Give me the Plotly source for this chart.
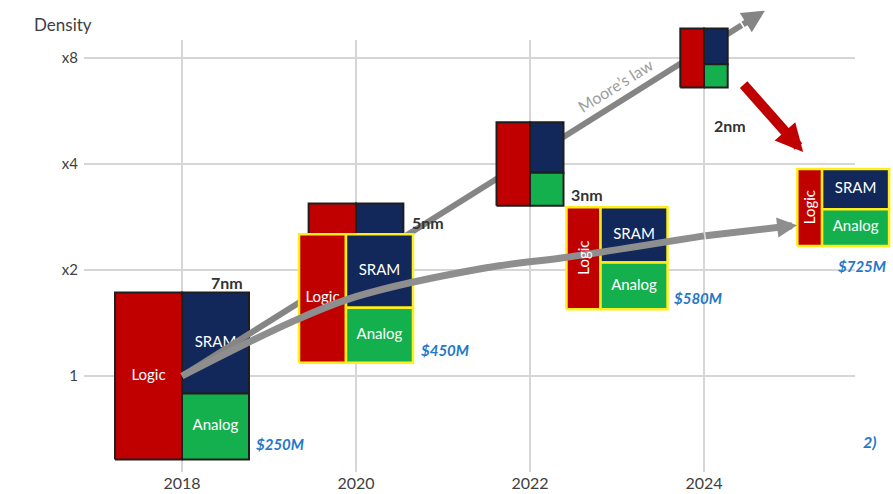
import numpy as np
import plotly.graph_objects as go

# ---------------- data ----------------
nodes = ["7nm", "5nm", "3nm", "2nm"]
node_years = [2018, 2020, 2022, 2024]
moore_density = [1.0, 2.1, 4.0, 8.0]        # ideal density of each node (box centres)
moore_area = [1.0, 0.5, 0.25, 0.125]        # chip area relative to 7nm under ideal scaling

# real chips: centre position and block areas (relative to half of the 7nm die)
actual_years = [2018.0, 2020.0, 2023.0, 2025.6]
actual_density = [1.0, 1.66, 2.16, 3.01]
logic_area = [1.00, 0.54, 0.31, 0.17]
sram_area = [0.605, 0.44, 0.33, 0.24]
analog_area = [0.395, 0.33, 0.28, 0.22]
design_cost = ["$250M", "$450M", "$580M", "$725M"]

# Moore's law line and the real density trend
moore_line_years = [2018.0, 2024.7]
moore_line_density = [1.0, 10.9]
trend_years = [2018.0, 2019.25, 2020.0, 2021.5, 2022.4, 2024.0, 2025.07]
trend_density = [1.0, 1.42, 1.68, 2.03, 2.17, 2.50, 2.68]
shrink_arrow_years = [2024.44, 2025.14]
shrink_arrow_density = [6.79, 4.33]

density_ticks = [1, 2, 4, 8]
density_labels = ["1", "x2", "x4", "x8"]
year_ticks = [2018, 2020, 2022, 2024]
block_names = ["Logic", "SRAM", "Analog"]
footnote = "2)"

# ---------------- layout / style ----------------
W, H = 893, 494
PX_YEAR = 87.0            # pixels per year
PX_DOUBLING = 106.0       # pixels per density doubling
ORIGIN_PX = (182.0, 376.0)  # pixel position of (first year, density 1)
BASE_W = 134.0 / PX_YEAR        # full 7nm die width in years
BASE_H = 167.0 / PX_DOUBLING    # full 7nm die height in doublings
COL_W = BASE_W / 2              # SRAM/analog column width

RED = "#c00000"
NAVY = "#12285a"
GREEN = "#14b04e"
DARK = "#1e1e1e"
YELLOW = "#ffee1a"
ARROW_GRAY = "#8e8e8e"
BLUE = "#1f78c8"
FONT = "Lato"


def px_to_year(px):
    return year_ticks[0] + (px - ORIGIN_PX[0]) / PX_YEAR


def py_to_level(py):
    return (ORIGIN_PX[1] - py) / PX_DOUBLING


def lv(d):
    return float(np.log2(d))


fig = go.Figure()

# empty trace so the grid axes are drawn
fig.add_trace(go.Scatter(x=[], y=[], xaxis="x", yaxis="y", showlegend=False))


def rect(x0, x1, y0, y1, fill, edge, width):
    fig.add_trace(go.Scatter(
        x=[x0, x1, x1, x0, x0], y=[y0, y0, y1, y1, y0],
        mode="lines", fill="toself", fillcolor=fill,
        line=dict(color=edge, width=width),
        xaxis="x2", yaxis="y2", hoverinfo="skip", showlegend=False))


def moore_box(i):
    s = np.sqrt(moore_area[i])
    w, h = BASE_W * s, BASE_H * s
    cx, cy = node_years[i], lv(moore_density[i])
    tot = logic_area[0] + sram_area[0] + analog_area[0]
    x0, x1 = cx - w / 2, cx + w / 2
    xs = x0 + w * logic_area[0] / tot
    y0, y1 = cy - h / 2, cy + h / 2
    ys = y1 - h * sram_area[0] / (sram_area[0] + analog_area[0])
    return dict(x0=x0, x1=x1, xs=xs, y0=y0, y1=y1, ys=ys)


def actual_box(i):
    h = (sram_area[i] + analog_area[i]) * BASE_H
    lw = logic_area[i] * COL_W / (sram_area[i] + analog_area[i])
    cx, cy = actual_years[i], lv(actual_density[i])
    x0 = cx - (lw + COL_W) / 2
    xs = x0 + lw
    x1 = xs + COL_W
    y0, y1 = cy - h / 2, cy + h / 2
    ys = y1 - sram_area[i] * BASE_H
    return dict(x0=x0, x1=x1, xs=xs, y0=y0, y1=y1, ys=ys)


def draw_box(b, edge, width):
    rect(b["x0"], b["xs"], b["y0"], b["y1"], RED, edge, width)
    rect(b["xs"], b["x1"], b["ys"], b["y1"], NAVY, edge, width)
    rect(b["xs"], b["x1"], b["y0"], b["ys"], GREEN, edge, width)


moore_boxes = [moore_box(i) for i in range(len(nodes))]
actual_boxes = [actual_box(i) for i in range(len(nodes))]

label_x, label_y, label_t = [], [], []
rotated = []


def collect_labels(b):
    lx = (b["x0"] + b["xs"]) / 2
    ly = (b["y0"] + b["y1"]) / 2
    if (b["xs"] - b["x0"]) * PX_YEAR < 40:
        rotated.append((lx, ly))
    else:
        label_x.append(lx); label_y.append(ly); label_t.append(block_names[0])
    rx = (b["xs"] + b["x1"]) / 2
    label_x.extend([rx, rx])
    label_y.extend([(b["ys"] + b["y1"]) / 2, (b["y0"] + b["ys"]) / 2])
    label_t.extend(block_names[1:])


# 7nm die (reference point for both series)
draw_box(actual_boxes[0], DARK, 2)
collect_labels(actual_boxes[0])
fig.add_trace(go.Scatter(x=label_x[:], y=label_y[:], text=label_t[:], mode="text",
                         textfont=dict(family=FONT, size=15, color="white"),
                         xaxis="x2", yaxis="y2", hoverinfo="skip", showlegend=False))
label_x.clear(); label_y.clear(); label_t.clear()

# Moore's law line (shaft; head added as annotation)
mx0, my0 = moore_line_years[0], lv(moore_line_density[0])
mx1, my1 = moore_line_years[1], lv(moore_line_density[1])
f_end = 0.96
mxe, mye = mx0 + f_end * (mx1 - mx0), my0 + f_end * (my1 - my0)
fig.add_trace(go.Scatter(x=[mx0, mxe], y=[my0, mye], mode="lines",
                         line=dict(color="#858585", width=6),
                         xaxis="x2", yaxis="y2", hoverinfo="skip", showlegend=False))

# ideally scaled dies
for i in range(1, len(nodes)):
    draw_box(moore_boxes[i], DARK, 2)

# real dies
for i in range(1, len(nodes)):
    draw_box(actual_boxes[i], YELLOW, 2.5)
    collect_labels(actual_boxes[i])

fig.add_trace(go.Scatter(x=label_x, y=label_y, text=label_t, mode="text",
                         textfont=dict(family=FONT, size=15, color="white"),
                         xaxis="x2", yaxis="y2", hoverinfo="skip", showlegend=False))

# real density trend
ty = [lv(d) for d in trend_density]
fig.add_trace(go.Scatter(x=trend_years[:-1], y=ty[:-1], mode="lines",
                         line=dict(color=ARROW_GRAY, width=7, shape="spline", smoothing=1.0),
                         xaxis="x2", yaxis="y2", hoverinfo="skip", showlegend=False))

annotations = []
for lx, ly in rotated:
    annotations.append(dict(x=lx, y=ly, xref="x2", yref="y2", text=block_names[0],
                            textangle=-90, showarrow=False,
                            font=dict(family=FONT, size=15, color="white")))

# arrow heads
annotations.append(dict(x=mx1, y=my1, ax=mxe, ay=mye, xref="x2", yref="y2",
                        axref="x2", ayref="y2", text="", showarrow=True,
                        arrowhead=2, arrowsize=0.75, arrowwidth=6, arrowcolor="#858585"))
annotations.append(dict(x=trend_years[-1], y=ty[-1], ax=trend_years[-2], ay=ty[-2],
                        xref="x2", yref="y2", axref="x2", ayref="y2", text="",
                        showarrow=True, arrowhead=2, arrowsize=0.57, arrowwidth=7,
                        arrowcolor=ARROW_GRAY))
annotations.append(dict(x=shrink_arrow_years[1], y=lv(shrink_arrow_density[1]),
                        ax=shrink_arrow_years[0], ay=lv(shrink_arrow_density[0]),
                        xref="x2", yref="y2", axref="x2", ayref="y2", text="",
                        showarrow=True, arrowhead=2, arrowsize=0.55, arrowwidth=10,
                        arrowcolor=RED))

# Moore's law caption along the line
f_txt = 0.743
angle = np.degrees(np.arctan((my1 - my0) * PX_DOUBLING / ((mx1 - mx0) * PX_YEAR)))
annotations.append(dict(x=mx0 + f_txt * (mx1 - mx0), y=my0 + f_txt * (my1 - my0),
                        xref="x2", yref="y2", text="Moore\u2019s law", showarrow=False,
                        textangle=-angle, yshift=19,
                        font=dict(family=FONT, size=16, color="#9d9d9d")))

# node names next to the ideal dies: (corner x, corner y, xanchor, xshift, yshift)
node_place = [("x1", "y1", "right", -4, 10),
              ("x1", "y1", "left", 7, -19),
              ("x1", "y0", "left", 5, 11),
              ("x1", "y0", "center", 2, -38)]
for i, (cx, cy, xa, xs, ys) in enumerate(node_place):
    b = moore_boxes[i]
    annotations.append(dict(x=b[cx], y=b[cy], xref="x2", yref="y2", text="<b>%s</b>" % nodes[i],
                            showarrow=False, xanchor=xa, yanchor="middle",
                            xshift=xs, yshift=ys,
                            font=dict(family=FONT, size=16, color="#333333")))

# design cost beside each real die: (xanchor, xshift, yshift) from bottom-right corner
cost_place = [("left", 5, 16), ("left", 6, 13), ("left", 4, 11), ("center", -27, -20)]
for i, (xa, xs, ys) in enumerate(cost_place):
    b = actual_boxes[i]
    annotations.append(dict(x=b["x1"], y=b["y0"], xref="x2", yref="y2",
                            text="<b><i>%s</i></b>" % design_cost[i], showarrow=False,
                            xanchor=xa, yanchor="middle", xshift=xs, yshift=ys,
                            font=dict(family=FONT, size=15, color=BLUE)))

annotations.append(dict(x=32 / W, y=1 - 24 / H, xref="paper", yref="paper", text="Density",
                        showarrow=False, xanchor="left", yanchor="middle",
                        font=dict(family=FONT, size=17, color="#404040")))
annotations.append(dict(x=879 / W, y=1 - 441 / H, xref="paper", yref="paper",
                        text="<b><i>%s</i></b>" % footnote, showarrow=False,
                        xanchor="right", yanchor="middle",
                        font=dict(family=FONT, size=16, color=BLUE)))

grid = dict(showgrid=True, gridcolor="#d6d6d6", gridwidth=1.5, zeroline=False,
            showline=False, ticks="", fixedrange=True)

fig.update_layout(
    width=W, height=H, margin=dict(l=0, r=0, t=0, b=0),
    paper_bgcolor="white", plot_bgcolor="rgba(0,0,0,0)",
    showlegend=False,
    xaxis=dict(domain=[84 / W, 855 / W], range=[px_to_year(84), px_to_year(855)],
               tickvals=year_ticks, ticktext=[str(y) for y in year_ticks],
               tickfont=dict(family=FONT, size=16, color="#404040"), anchor="y", **grid),
    yaxis=dict(domain=[(H - 472) / H, (H - 40) / H],
               range=[py_to_level(472), py_to_level(40)],
               tickvals=[lv(d) for d in density_ticks], ticktext=density_labels,
               ticklabelstandoff=5,
               tickfont=dict(family=FONT, size=15, color="#404040"), anchor="x", **grid),
    xaxis2=dict(domain=[0, 1], range=[px_to_year(0), px_to_year(W)], visible=False,
                anchor="y2", fixedrange=True),
    yaxis2=dict(domain=[0, 1], range=[py_to_level(H), py_to_level(0)], visible=False,
                anchor="x2", fixedrange=True),
    annotations=annotations,
)

fig.write_html("out.html")
